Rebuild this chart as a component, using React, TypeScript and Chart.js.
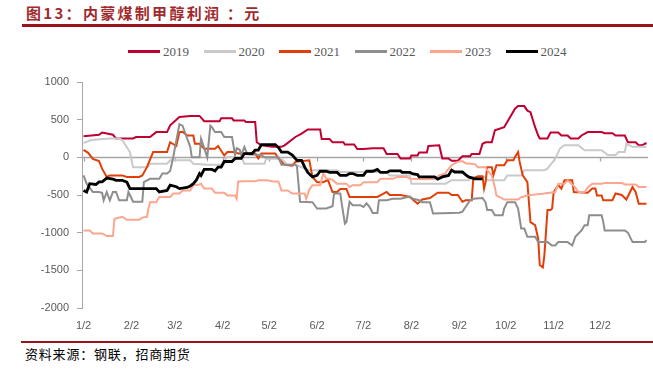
import React, { useEffect, useRef } from "react";
import { Chart, registerables } from "chart.js";

Chart.register(...registerables);

// x = days since Jan 2
const monthTickDays = [0, 31, 59, 90, 120, 151, 181, 212, 243, 273, 304, 334];
const monthTickLabels = ["1/2", "2/2", "3/2", "4/2", "5/2", "6/2", "7/2", "8/2", "9/2", "10/2", "11/2", "12/2"];

const seriesNames = ["2019", "2020", "2021", "2022", "2023", "2024"];
const seriesColors = ["#C00032", "#CACACA", "#E23E08", "#8E8E8E", "#FDA68F", "#000000"];
const seriesWidths = [2, 2, 2, 2, 2, 2.8];

const pts2019 = [[0,280],[10,300],[12,330],[19,300],[21,250],[32,250],[34,270],[43,270],[47,335],[54,335],[56,425],[62,535],[69,550],[75,550],[78,480],[88,480],[89,520],[96,520],[97,490],[104,490],[105,470],[111,470],[112,200],[115,160],[122,140],[128,140],[130,160],[137,270],[141,315],[145,370],[153,370],[154,245],[159,245],[161,200],[168,200],[169,170],[175,170],[177,110],[181,110],[187,120],[194,120],[196,45],[203,45],[205,-15],[211,-15],[212,25],[216,25],[217,65],[222,65],[223,150],[230,160],[232,-15],[236,-15],[238,-45],[242,-45],[245,15],[250,15],[251,45],[256,45],[258,180],[260,200],[264,200],[266,360],[272,400],[279,645],[281,680],[285,680],[287,620],[289,600],[292,400],[294,290],[295,250],[300,250],[302,330],[307,330],[309,290],[313,290],[315,250],[320,250],[322,290],[326,335],[335,335],[337,320],[342,320],[344,290],[350,290],[352,200],[357,200],[359,160],[361,160],[364,190]];

const pts2020 = [[0,190],[5,230],[17,250],[23,250],[25,230],[30,70],[32,-130],[41,-130],[43,-85],[54,-85],[56,-40],[69,-40],[71,-85],[80,-100],[89,-100],[93,5],[102,5],[104,-85],[117,-85],[118,-20],[128,-20],[132,-100],[137,-100],[146,-170],[164,-170],[166,-195],[196,-195],[198,-240],[211,-240],[212,-350],[234,-350],[238,-305],[249,-305],[251,-260],[260,-260],[261,-305],[272,-305],[274,-240],[283,-240],[285,-170],[298,-170],[300,-150],[305,-20],[308,115],[311,160],[320,160],[324,95],[335,95],[339,30],[344,30],[346,70],[350,70],[351,180],[355,140],[364,140]];

const pts2021 = [[0,100],[3,60],[6,-20],[10,-50],[12,-150],[15,-260],[17,-240],[25,-240],[28,-260],[36,-260],[38,-240],[41,-130],[45,70],[54,70],[56,200],[60,150],[62,335],[64,340],[67,290],[71,290],[72,180],[75,180],[78,115],[85,115],[87,150],[91,25],[93,70],[98,70],[100,50],[111,50],[113,-15],[115,50],[124,50],[126,-15],[130,-100],[135,-110],[137,-60],[146,-40],[148,-260],[151,-330],[155,-330],[158,-300],[161,-460],[164,-460],[166,-420],[170,-420],[172,-525],[190,-525],[196,-460],[198,-500],[205,-500],[211,-525],[216,-615],[219,-560],[224,-540],[229,-470],[236,-470],[238,-500],[242,-500],[245,-590],[247,-570],[251,-570],[252,-285],[255,-250],[258,-250],[259,-415],[260,-330],[261,-130],[264,-130],[265,-240],[267,-105],[272,-105],[274,-40],[278,-40],[279,5],[281,70],[282,-60],[284,-240],[287,-330],[289,-860],[292,-900],[294,-1080],[295,-1430],[297,-1460],[298,-1300],[300,-700],[302,-700],[303,-680],[304,-460],[307,-370],[309,-415],[311,-305],[316,-305],[317,-460],[326,-470],[329,-415],[331,-415],[332,-505],[335,-505],[336,-570],[342,-570],[344,-480],[348,-500],[351,-560],[355,-395],[357,-460],[359,-615],[364,-615]];

const pts2022 = [[0,-240],[2,-350],[6,-460],[10,-460],[12,-470],[13,-570],[15,-460],[17,-570],[19,-460],[21,-460],[23,-570],[28,-570],[29,-460],[30,-500],[32,-590],[38,-590],[39,-330],[43,-285],[49,-285],[51,-215],[54,-215],[56,-180],[58,5],[60,225],[62,440],[64,420],[67,250],[69,140],[70,0],[75,0],[76,248],[80,0],[82,420],[83,400],[85,336],[89,336],[91,270],[96,270],[98,30],[99,120],[101,100],[102,30],[104,137],[106,40],[115,30],[117,0],[126,0],[128,-100],[137,-100],[138,-120],[140,-590],[148,-595],[151,-680],[157,-680],[161,-650],[162,-480],[166,-480],[167,-620],[169,-880],[170,-860],[171,-720],[172,-590],[174,-635],[179,-635],[181,-660],[183,-610],[185,-660],[187,-740],[190,-740],[191,-570],[196,-570],[200,-550],[205,-550],[211,-520],[213,-550],[217,-570],[219,-595],[224,-595],[226,-745],[243,-735],[245,-720],[250,-570],[252,-550],[258,-540],[260,-600],[261,-700],[264,-700],[266,-770],[271,-770],[272,-680],[274,-595],[279,-595],[281,-680],[283,-945],[285,-945],[287,-1055],[292,-1055],[294,-1125],[300,-1125],[303,-1170],[305,-1170],[307,-1125],[313,-1125],[316,-1170],[318,-1055],[322,-970],[324,-900],[326,-900],[327,-770],[335,-770],[336,-850],[337,-970],[350,-970],[352,-1000],[355,-1125],[363,-1125],[364,-1100]];

const pts2023 = [[0,-970],[4,-970],[6,-1010],[12,-1010],[15,-1045],[19,-1045],[20,-815],[25,-790],[28,-830],[36,-830],[38,-800],[41,-790],[42,-680],[43,-595],[47,-595],[49,-525],[56,-525],[58,-480],[62,-480],[64,-440],[69,-440],[71,-370],[75,-360],[76,-350],[78,-415],[83,-415],[85,-470],[91,-470],[93,-505],[98,-505],[99,-550],[100,-320],[104,-318],[111,-318],[113,-305],[119,-305],[122,-320],[126,-320],[128,-440],[132,-440],[135,-480],[143,-480],[144,-550],[146,-430],[148,-370],[153,-370],[155,-215],[157,-285],[159,-285],[161,-300],[164,-350],[170,-350],[172,-395],[174,-370],[179,-370],[181,-330],[190,-330],[192,-285],[200,-285],[203,-260],[209,-260],[211,-285],[222,-290],[227,-285],[230,-240],[234,-215],[235,-180],[238,-105],[242,-60],[245,-50],[247,-80],[253,-90],[255,-130],[260,-130],[261,-170],[264,-240],[266,-400],[267,-505],[272,-560],[281,-560],[283,-530],[287,-505],[298,-480],[305,-460],[307,-350],[311,-350],[313,-305],[316,-360],[318,-400],[320,-460],[324,-460],[326,-400],[329,-350],[335,-350],[337,-340],[348,-340],[350,-360],[357,-360],[359,-395],[364,-395]];

const pts2024 = [[0,-440],[2,-460],[4,-350],[8,-360],[10,-325],[12,-325],[15,-275],[19,-290],[21,-305],[25,-305],[28,-330],[30,-415],[47,-415],[49,-460],[54,-440],[56,-370],[60,-390],[62,-415],[67,-400],[69,-380],[71,-350],[73,-300],[75,-215],[76,-240],[78,-160],[83,-160],[85,-180],[87,-130],[89,-130],[91,-55],[96,-55],[98,-15],[102,-15],[104,50],[109,50],[111,95],[113,95],[115,170],[124,170],[126,130],[128,70],[132,70],[135,30],[138,-40],[141,-40],[143,-130],[145,-200],[148,-260],[151,-240],[153,-185],[157,-185],[159,-200],[164,-200],[166,-240],[170,-240],[172,-215],[174,-215],[177,-240],[181,-240],[183,-185],[187,-185],[190,-160],[192,-200],[196,-200],[198,-180],[205,-180],[206,-200],[211,-200],[213,-220],[216,-230],[217,-260],[227,-260],[229,-290],[232,-260],[236,-240],[238,-170],[240,-195],[245,-195],[247,-230],[249,-260],[253,-285],[258,-285]];

const seriesPoints = [pts2019, pts2020, pts2021, pts2022, pts2023, pts2024];

const zeroLinePlugin = {
  id: "zeroLine",
  beforeDatasetsDraw(chart: any) {
    const { ctx, chartArea, scales } = chart;
    const y0 = Math.round(scales.y.getPixelForValue(0)) + 0.5;
    ctx.save();
    ctx.strokeStyle = "#A6A6A6";
    ctx.lineWidth = 1.3;
    ctx.beginPath();
    ctx.moveTo(chartArea.left, y0);
    ctx.lineTo(chartArea.right, y0);
    monthTickDays.forEach((d) => {
      const x = Math.round(scales.x.getPixelForValue(d)) + 0.5;
      ctx.moveTo(x, y0);
      ctx.lineTo(x, y0 + 4);
    });
    ctx.stroke();
    ctx.restore();
  },
};

export default function App() {
  const canvasRef = useRef<HTMLCanvasElement | null>(null);

  useEffect(() => {
    if (!canvasRef.current) return;
    const datasets = seriesNames.map((name, i) => ({
      label: name,
      data: seriesPoints[i].map((p) => ({ x: p[0], y: p[1] })),
      borderColor: seriesColors[i],
      backgroundColor: seriesColors[i],
      borderWidth: seriesWidths[i],
      pointRadius: 0,
      tension: 0,
      fill: false,
      order: seriesNames.length - i,
    }));
    const chart = new Chart(canvasRef.current, {
      type: "line",
      data: { datasets },
      plugins: [zeroLinePlugin],
      options: {
        animation: false,
        responsive: false,
        layout: { padding: { top: 20, right: 5, left: 0, bottom: 0 } },
        plugins: { legend: { display: false }, tooltip: { enabled: false } },
        scales: {
          x: {
            type: "linear",
            min: -1,
            max: 365,
            afterBuildTicks: (axis: any) => {
              axis.ticks = monthTickDays.map((v) => ({ value: v }));
            },
            afterFit: (axis: any) => {
              axis.height = 32;
            },
            grid: { display: false, drawTicks: false },
            border: { display: false },
            ticks: {
              autoSkip: false,
              maxRotation: 0,
              padding: 11,
              color: "#595959",
              font: { family: "'Liberation Sans', Arial, sans-serif", size: 11 },
              callback: (v: any) => {
                const idx = monthTickDays.indexOf(Number(v));
                return idx >= 0 ? monthTickLabels[idx] : "";
              },
            },
          },
          y: {
            min: -2000,
            max: 1000,
            afterFit: (axis: any) => {
              axis.width = 82;
            },
            grid: {
              display: true,
              drawOnChartArea: false,
              drawTicks: true,
              tickLength: 5,
              color: "#A6A6A6",
            },
            border: { display: true, color: "#A6A6A6", width: 1 },
            ticks: {
              stepSize: 500,
              padding: 8,
              color: "#595959",
              font: { family: "'Liberation Sans', Arial, sans-serif", size: 11 },
              callback: (v: any) => String(v),
            },
          },
        },
      },
    } as any);
    return () => chart.destroy();
  }, []);

  return (
    <div
      style={{
        position: "absolute",
        left: 0,
        top: 0,
        width: 653,
        height: 369,
        background: "#ffffff",
        overflow: "hidden",
      }}
    >
      <div
        style={{
          position: "absolute",
          left: 26,
          top: 3,
          fontFamily: "'Noto Sans CJK SC', sans-serif",
          fontWeight: 700,
          fontSize: 15,
          letterSpacing: 2.3,
          color: "#A12A2D",
          whiteSpace: "pre",
          lineHeight: "20px",
        }}
      >
        图13：内蒙煤制甲醇利润 ：元
      </div>
      <div style={{ position: "absolute", left: 22, top: 24, width: 631, height: 3, background: "#99141A" }} />
      {seriesNames.map((name, i) => (
        <div
          key={name}
          style={{
            position: "absolute",
            left: 128 + i * 75.5,
            top: 43,
            height: 17,
            display: "flex",
            alignItems: "center",
            whiteSpace: "nowrap",
          }}
        >
          <span style={{ display: "inline-block", width: 32, height: 3, background: seriesColors[i] }} />
          <span
            style={{
              marginLeft: 3,
              fontFamily: "'Liberation Serif', 'Times New Roman', serif",
              fontSize: 13,
              color: "#595959",
              lineHeight: "17px",
            }}
          >
            {name}
          </span>
        </div>
      ))}
      <canvas
        ref={canvasRef}
        width={653}
        height={278}
        style={{ position: "absolute", left: 0, top: 62, width: 653, height: 278 }}
      />
      <div style={{ position: "absolute", left: 21, top: 341, width: 632, height: 2, background: "#99141A" }} />
      <div
        style={{
          position: "absolute",
          left: 25,
          top: 345,
          fontFamily: "'Noto Sans CJK SC', sans-serif",
          fontSize: 13,
          letterSpacing: 0.8,
          color: "#000000",
          whiteSpace: "nowrap",
          lineHeight: "18px",
        }}
      >
        资料来源：钢联，招商期货
      </div>
    </div>
  );
}
